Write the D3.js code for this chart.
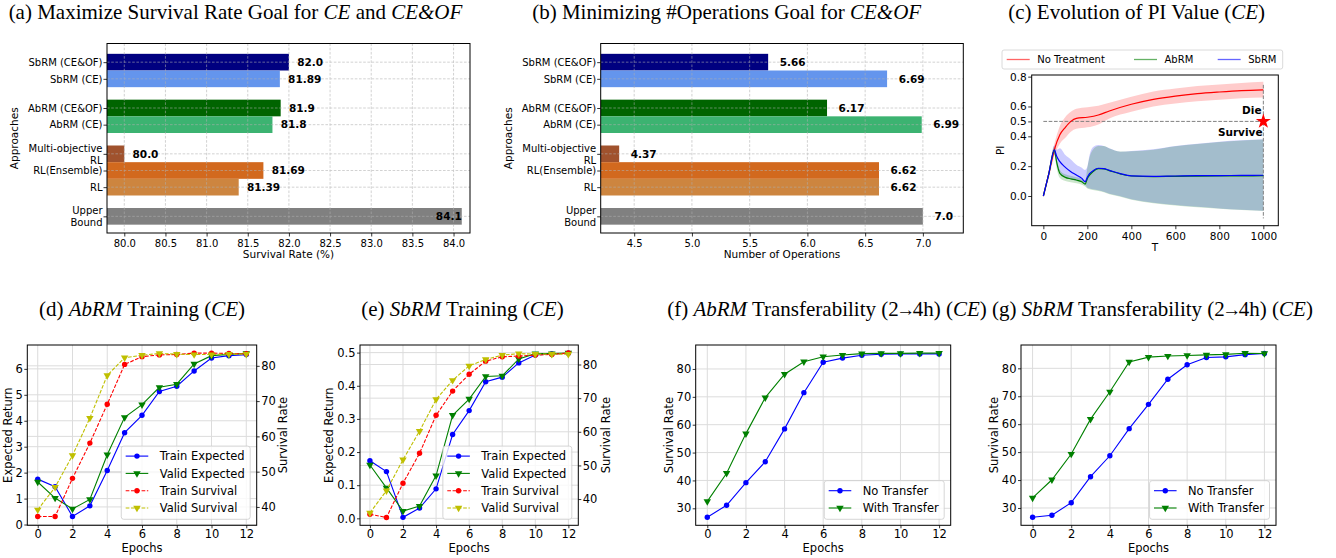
<!DOCTYPE html>
<html>
<head>
<meta charset="utf-8">
<script src="https://cdn.jsdelivr.net/npm/d3@7"></script>
<style>
  body { margin: 0; background: #fff; }
  svg { display: block; }
  text { white-space: pre; }
</style>
</head>
<body>
<svg id="fig" width="1336" height="558"></svg>
<script>
    // ---- data ----
    var approachGroups = [
        ["SbRM (CE&OF)", "SbRM (CE)"],
        ["AbRM (CE&OF)", "AbRM (CE)"],
        ["Multi-objective\nRL", "RL(Ensemble)", "RL"],
        ["Upper\nBound"]
    ];
    var survivalRate = [82.0, 81.89, 81.9, 81.8, 80.0, 81.69, 81.39, 84.1];
    var numOperations = [5.66, 6.69, 6.17, 6.99, 4.37, 6.62, 6.62, 7.0];
    var survivalTicks = [80.0, 80.5, 81.0, 81.5, 82.0, 82.5, 83.0, 83.5, 84.0];
    var operationTicks = [4.5, 5.0, 5.5, 6.0, 6.5, 7.0];

    var piTime = [0, 25, 50, 75, 100, 125, 150, 200, 250, 300, 400, 500, 600, 700, 800, 900, 1000];
    var noTreatMean = [0, 0.15, 0.31, 0.41, 0.46, 0.50, 0.52, 0.528, 0.543, 0.57, 0.615, 0.648, 0.67, 0.686, 0.697, 0.706, 0.711];
    var noTreatLow  = [0, 0.12, 0.27, 0.35, 0.39, 0.43, 0.45, 0.46, 0.48, 0.52, 0.565, 0.60, 0.62, 0.635, 0.645, 0.655, 0.66];
    var noTreatHigh = [0, 0.18, 0.35, 0.47, 0.53, 0.565, 0.585, 0.595, 0.605, 0.625, 0.665, 0.70, 0.72, 0.737, 0.748, 0.757, 0.765];

    var piTimeRM = [0, 25, 50, 60, 75, 100, 125, 150, 175, 190, 200, 210, 225, 250, 275, 300, 350, 400, 500, 600, 700, 800, 900, 1000];
    var abrmMean = [0, 0.15, 0.31, 0.23, 0.152, 0.125, 0.115, 0.107, 0.095, 0.08, 0.118, 0.14, 0.163, 0.183, 0.181, 0.17, 0.148, 0.134, 0.13, 0.132, 0.133, 0.134, 0.135, 0.136];
    var abrmLow  = [0, 0.13, 0.28, 0.19, 0.12, 0.10, 0.092, 0.085, 0.075, 0.063, 0.05, 0.045, 0.04, 0.034, 0.025, 0.012, -0.005, -0.025, -0.048, -0.063, -0.075, -0.086, -0.094, -0.10];
    var abrmHigh = [0, 0.17, 0.33, 0.25, 0.175, 0.145, 0.135, 0.125, 0.115, 0.10, 0.19, 0.26, 0.31, 0.335, 0.335, 0.318, 0.298, 0.30, 0.31, 0.333, 0.348, 0.362, 0.372, 0.378];
    var sbrmMean = [0, 0.15, 0.31, 0.268, 0.23, 0.192, 0.163, 0.141, 0.118, 0.096, 0.125, 0.15, 0.168, 0.186, 0.183, 0.172, 0.15, 0.135, 0.132, 0.134, 0.136, 0.137, 0.138, 0.139];
    var sbrmLow  = [0, 0.13, 0.28, 0.22, 0.16, 0.13, 0.115, 0.10, 0.09, 0.075, 0.055, 0.05, 0.045, 0.038, 0.028, 0.015, -0.002, -0.022, -0.045, -0.06, -0.072, -0.083, -0.092, -0.098];
    var sbrmHigh = [0, 0.17, 0.34, 0.31, 0.32, 0.275, 0.245, 0.21, 0.19, 0.175, 0.197, 0.275, 0.326, 0.342, 0.335, 0.32, 0.297, 0.302, 0.313, 0.335, 0.35, 0.364, 0.373, 0.38];
    var piTicks = [0.0, 0.2, 0.4, 0.5, 0.6, 0.8];
    var timeTicks = [0, 200, 400, 600, 800, 1000];

    var epochs = [0, 1, 2, 3, 4, 5, 6, 7, 8, 9, 10, 11, 12];
    var epochTicks = [0, 2, 4, 6, 8, 10, 12];
    var abrmTrainExpected = [1.75, 1.46, 0.31, 0.72, 2.08, 3.54, 4.21, 5.13, 5.33, 5.92, 6.42, 6.51, 6.55];
    var abrmValidExpected = [1.64, 1.02, 0.60, 0.97, 2.69, 4.13, 4.62, 5.29, 5.41, 6.19, 6.51, 6.56, 6.60];
    var abrmTrainSurvival = [37.3, 37.3, 48.1, 58.1, 69.1, 80.4, 82.6, 83.1, 83.2, 83.6, 83.6, 83.5, 83.4];
    var abrmValidSurvival = [39.2, 45.6, 54.6, 65.2, 77.3, 82.3, 83.0, 83.5, 83.3, 83.2, 83.2, 83.3, 83.3];
    var sbrmTrainExpected = [0.174, 0.141, 0.003, 0.031, 0.089, 0.253, 0.325, 0.412, 0.426, 0.469, 0.493, 0.496, 0.498];
    var sbrmValidExpected = [0.161, 0.092, 0.022, 0.037, 0.129, 0.311, 0.360, 0.428, 0.430, 0.481, 0.497, 0.497, 0.499];
    var sbrmTrainSurvival = [35.5, 34.5, 44.7, 53.6, 64.9, 72.1, 77.1, 81.0, 82.3, 82.5, 82.8, 83.0, 83.4];
    var sbrmValidSurvival = [35.9, 42.5, 51.7, 60.2, 69.6, 75.3, 79.6, 81.5, 82.8, 83.2, 83.1, 83.1, 83.1];
    var abrmNoTransfer   = [26.8, 31.1, 39.2, 46.7, 58.5, 71.5, 82.4, 83.9, 84.9, 85.3, 85.4, 85.4, 85.4];
    var abrmWithTransfer = [32.5, 42.6, 56.8, 69.7, 78.1, 82.6, 84.4, 85.0, 85.5, 85.6, 85.6, 85.7, 85.7];
    var sbrmNoTransfer   = [26.7, 27.4, 31.9, 41.2, 48.7, 58.4, 67.1, 76.1, 81.3, 83.9, 84.1, 84.9, 85.3];
    var sbrmWithTransfer = [33.6, 40.1, 49.3, 61.8, 71.6, 82.3, 84.0, 84.4, 84.6, 84.8, 85.0, 85.4, 85.3];

    // styles
    var barColors = ["#000080", "#6495ed", "#006400", "#3cb371", "#a0522d", "#d2691e", "#cd853f", "#808080"];
    var SANS = "'DejaVu Sans', sans-serif";
    var SERIF = "'Liberation Serif', 'Times New Roman', serif";

    var svg = d3.select("#fig");
    svg.append("rect").attr("width", 1336).attr("height", 558).attr("fill", "#fff");

    // ---- helpers ----
    // parts: [text, italic?, arrow?]
    function title(cx, y, parts) {
        var t = svg.append("text").attr("x", cx).attr("y", y).attr("text-anchor", "middle")
            .attr("font-family", SERIF).attr("font-size", 21).attr("fill", "#000");
        parts.forEach(function(p, k) {
            var ts = t.append("tspan").attr("font-style", p[1] ? "italic" : "normal").text(p[0]);
            if (p[2]) ts.attr("font-size", 19).attr("dx", -2.5);
            if (k > 0 && parts[k - 1][2]) ts.attr("dx", -2.5);
        });
    }

    function drawAxis(g, axis, size) {
        g.call(axis);
        g.select(".domain").remove();
        g.selectAll(".tick line").attr("stroke", "#000").attr("stroke-width", 0.8);
        g.selectAll(".tick text").attr("font-family", SANS).attr("font-size", size).attr("fill", "#000");
    }

    function frame(g, box) {
        g.append("rect").attr("x", box.left).attr("y", box.top)
            .attr("width", box.right - box.left).attr("height", box.bottom - box.top)
            .attr("fill", "none").attr("stroke", "#000").attr("stroke-width", 1);
    }

    function label(g, x, y, s, size, rotate) {
        var t = g.append("text").attr("font-family", SANS).attr("font-size", size)
            .attr("text-anchor", "middle").attr("fill", "#000").text(s);
        if (rotate) t.attr("transform", "translate(" + x + "," + y + ") rotate(-90)").attr("dy", "0.35em");
        else t.attr("x", x).attr("y", y);
        return t;
    }

    function fmtVal(v) { return (v % 1 === 0) ? v.toFixed(1) : String(v); }

    // ---- (a) / (b) horizontal bars ----
    function barPanel(box, values, xDomain, xTicks, xLabel, yLabelX) {
        var names = [], slots = [], s = 0;
        approachGroups.forEach(function(grp, gi) {
            if (gi > 0) s += 0.75;
            grp.forEach(function(n) { names.push(n); slots.push(s); s += 1; });
        });
        var x = d3.scaleLinear().domain(xDomain).range([box.left, box.right]);
        var y = d3.scaleLinear().domain([-1.12, 10.25]).range([box.top, box.bottom]);
        var bh = y(1) - y(0);
        var g = svg.append("g");

        g.selectAll("rect.bar").data(values).join("rect").attr("class", "bar")
            .attr("x", x(xDomain[0]))
            .attr("y", function(d, i) { return y(slots[i]) - bh / 2; })
            .attr("width", function(d) { return x(d) - x(xDomain[0]); })
            .attr("height", bh)
            .attr("fill", function(d, i) { return barColors[i]; });

        var grid = g.append("g").attr("stroke", "#b0b0b0").attr("stroke-width", 0.8)
            .attr("stroke-dasharray", "2.6,1.6").attr("opacity", 0.7);
        xTicks.forEach(function(v) {
            grid.append("line").attr("x1", x(v)).attr("x2", x(v)).attr("y1", box.top).attr("y2", box.bottom);
        });
        slots.forEach(function(v) {
            grid.append("line").attr("x1", box.left).attr("x2", box.right).attr("y1", y(v)).attr("y2", y(v));
        });

        g.selectAll("text.val").data(values).join("text").attr("class", "val")
            .attr("x", function(d) { return x(d + 0.1); })
            .attr("y", function(d, i) { return y(slots[i]); })
            .attr("dy", "0.36em")
            .attr("font-family", SANS).attr("font-size", 10.5).attr("font-weight", "bold")
            .text(fmtVal)
            .each(function(d) {
                if (x(d + 0.1) + this.getComputedTextLength() > box.right) {
                    d3.select(this).attr("x", x(d)).attr("text-anchor", "end");
                }
            });

        var ax = g.append("g").attr("transform", "translate(0," + box.bottom + ")");
        drawAxis(ax, d3.axisBottom(x).tickValues(xTicks).tickFormat(d3.format(".1f")).tickSize(3.5).tickPadding(3), 10);
        var ay = g.append("g").attr("transform", "translate(" + box.left + ",0)");
        drawAxis(ay, d3.axisLeft(y).tickValues(slots)
            .tickFormat(function(d) { return names[slots.indexOf(d)]; })
            .tickSize(3.5).tickPadding(1), 10);
        ay.selectAll(".tick text").each(function(d) {
            var lines = names[slots.indexOf(d)].split("\n");
            if (lines.length < 2) return;
            var t = d3.select(this).text(null).attr("dy", null);
            lines.forEach(function(ln, k) {
                t.append("tspan").attr("x", -4.5).attr("dy", k === 0 ? "-0.28em" : "1.2em").text(ln);
            });
        });

        frame(g, box);
        label(g, (box.left + box.right) / 2, 258, xLabel, 10.5, false);
        label(g, yLabelX, (box.top + box.bottom) / 2, "Approaches", 10.5, true);
    }

    barPanel({ left: 107, top: 43.5, right: 470, bottom: 233 }, survivalRate,
        [79.79, 84.2], survivalTicks, "Survival Rate (%)", 14);
    barPanel({ left: 600.7, top: 43.5, right: 963.3, bottom: 233 }, numOperations,
        [4.21, 7.35], operationTicks, "Number of Operations", 508.5);

    // ---- (c) PI evolution ----
    (function() {
        var box = { left: 1031.7, top: 75, right: 1278.3, bottom: 225.7 };
        var x = d3.scaleLinear().domain([-53, 1068]).range([box.left, box.right]);
        var y = d3.scaleLinear().domain([-0.199, 0.811]).range([box.bottom, box.top]);
        var g = svg.append("g");

        function band(ts, lo, hi) {
            return d3.area().curve(d3.curveMonotoneX)
                .x(function(d, i) { return x(ts[i]); })
                .y0(function(d, i) { return y(lo[i]); })
                .y1(function(d, i) { return y(hi[i]); })(ts);
        }
        function line(ts, vals) {
            return d3.line().curve(d3.curveMonotoneX)
                .x(function(d, i) { return x(ts[i]); })
                .y(function(d, i) { return y(vals[i]); })(ts);
        }

        g.append("path").attr("d", band(piTime, noTreatLow, noTreatHigh)).attr("fill", "#ff0000").attr("opacity", 0.2);
        g.append("path").attr("d", band(piTimeRM, sbrmLow, sbrmHigh)).attr("fill", "#0000ff").attr("opacity", 0.2);
        g.append("path").attr("d", band(piTimeRM, abrmLow, abrmHigh)).attr("fill", "#008000").attr("opacity", 0.2);

        g.append("line").attr("x1", x(0)).attr("x2", x(1000)).attr("y1", y(0.5)).attr("y2", y(0.5))
            .attr("stroke", "#808080").attr("stroke-width", 1).attr("stroke-dasharray", "3.7,1.6");
        g.append("line").attr("x1", x(1000)).attr("x2", x(1000)).attr("y1", y(0.745)).attr("y2", y(-0.15))
            .attr("stroke", "#808080").attr("stroke-width", 1).attr("stroke-dasharray", "3.7,1.6");

        g.append("path").attr("d", line(piTime, noTreatMean)).attr("fill", "none").attr("stroke", "#ff0000").attr("stroke-width", 1.2);
        g.append("path").attr("d", line(piTimeRM, abrmMean)).attr("fill", "none").attr("stroke", "#008000").attr("stroke-width", 1.2);
        g.append("path").attr("d", line(piTimeRM, sbrmMean)).attr("fill", "none").attr("stroke", "#0000ff").attr("stroke-width", 1.2);

        g.append("path").attr("d", d3.symbol().type(d3.symbolStar).size(70)())
            .attr("transform", "translate(" + x(1000) + "," + y(0.5) + ")").attr("fill", "#ff0000");
        g.append("text").attr("x", 1261.5).attr("y", 113.5).attr("text-anchor", "end")
            .attr("font-family", SANS).attr("font-size", 10.5).attr("font-weight", "bold").text("Die");
        g.append("text").attr("x", 1262.5).attr("y", 135.5).attr("text-anchor", "end")
            .attr("font-family", SANS).attr("font-size", 10.5).attr("font-weight", "bold").text("Survive");

        var ax = g.append("g").attr("transform", "translate(0," + box.bottom + ")");
        drawAxis(ax, d3.axisBottom(x).tickValues(timeTicks).tickFormat(d3.format("d")).tickSize(3.5).tickPadding(3), 10.5);
        var ay = g.append("g").attr("transform", "translate(" + box.left + ",0)");
        drawAxis(ay, d3.axisLeft(y).tickValues(piTicks).tickFormat(d3.format(".1f")).tickSize(3.5).tickPadding(1.5), 10.5);
        frame(g, box);
        label(g, (box.left + box.right) / 2, 251, "T", 10.5, false);
        label(g, 1000, (box.top + box.bottom) / 2, "PI", 10.5, true);

        // legend above the axes
        var lg = g.append("g");
        lg.append("rect").attr("x", 1002).attr("y", 50).attr("width", 280.7).attr("height", 19)
            .attr("rx", 2).attr("fill", "#fff").attr("stroke", "#d0d0d0").attr("stroke-width", 0.8);
        [["No Treatment", "#ff0000", 1006.7], ["AbRM", "#008000", 1134], ["SbRM", "#0000ff", 1217.7]].forEach(function(e) {
            lg.append("line").attr("x1", e[2]).attr("x2", e[2] + 23).attr("y1", 59.5).attr("y2", 59.5)
                .attr("stroke", e[1]).attr("stroke-width", 1.3).attr("opacity", 0.6);
            lg.append("text").attr("x", e[2] + 30.5).attr("y", 59.5).attr("dy", "0.35em")
                .attr("font-family", SANS).attr("font-size", 10).text(e[0]);
        });
    })();

    // ---- (d)-(g) training curves ----
    var TICK = 11.5;
    function epochPanel(box, xEnds, left, right, series, legendRows) {
        var x = d3.scaleLinear().domain(xEnds).range([box.left, box.right]);
        var yL = d3.scaleLinear().domain(left.domain).range([box.bottom, box.top]);
        var yR = right ? d3.scaleLinear().domain(right.domain).range([box.bottom, box.top]) : null;
        var g = svg.append("g");

        var grid = g.append("g").attr("stroke", "#dcdcdc").attr("stroke-width", 1);
        epochTicks.forEach(function(v) {
            grid.append("line").attr("x1", x(v)).attr("x2", x(v)).attr("y1", box.top).attr("y2", box.bottom);
        });
        left.ticks.forEach(function(v) {
            grid.append("line").attr("x1", box.left).attr("x2", box.right).attr("y1", yL(v)).attr("y2", yL(v));
        });
        if (right) right.ticks.forEach(function(v) {
            grid.append("line").attr("x1", box.left).attr("x2", box.right).attr("y1", yR(v)).attr("y2", yR(v));
        });

        var tri = d3.symbol().type(d3.symbolTriangle).size(24)();
        function marker(sel, m, color) {
            if (m === "o") sel.append("circle").attr("r", 2.7).attr("fill", color);
            else sel.append("path").attr("d", tri).attr("transform", "rotate(180)").attr("fill", color);
        }

        series.forEach(function(s) {
            var ys = s.axis === "R" ? yR : yL;
            g.append("path")
                .attr("d", d3.line().x(function(d, i) { return x(epochs[i]); }).y(function(d) { return ys(d); })(s.values))
                .attr("fill", "none").attr("stroke", s.color).attr("stroke-width", 1.1)
                .attr("stroke-dasharray", s.dash ? "3.7,1.6" : null);
            s.values.forEach(function(v, i) {
                var mg = g.append("g").attr("transform", "translate(" + x(epochs[i]) + "," + ys(v) + ")");
                marker(mg, s.marker, s.color);
            });
        });

        var ax = g.append("g").attr("transform", "translate(0," + box.bottom + ")");
        drawAxis(ax, d3.axisBottom(x).tickValues(epochTicks).tickSize(3).tickPadding(1.5), TICK);
        var ay = g.append("g").attr("transform", "translate(" + box.left + ",0)");
        drawAxis(ay, d3.axisLeft(yL).tickValues(left.ticks).tickFormat(left.fmt).tickSize(3).tickPadding(1.5), TICK);
        if (right) {
            var ar = g.append("g").attr("transform", "translate(" + box.right + ",0)");
            drawAxis(ar, d3.axisRight(yR).tickValues(right.ticks).tickFormat(right.fmt).tickSize(3).tickPadding(1.5), TICK);
            label(g, right.labelX, (box.top + box.bottom) / 2, right.label, 11.5, true);
        }
        frame(g, box);
        label(g, (box.left + box.right) / 2, 552, "Epochs", 11.5, false);
        label(g, left.labelX, (box.top + box.bottom) / 2, left.label, 11.5, true);

        // legend, lower right
        var lg = g.append("g");
        var rowH = 17.3, n = legendRows.length;
        var texts = legendRows.map(function(r) {
            return lg.append("text").attr("font-family", SANS).attr("font-size", 11.5).text(r.name);
        });
        var tw = d3.max(texts, function(t) { return t.node().getComputedTextLength(); });
        var bw = 38.4 + tw + 5.5, bh = 10 + (n - 1) * rowH + 11.3;
        var bx = box.right - 6.5 - bw, by = box.bottom - 6 - bh;
        lg.insert("rect", "text").attr("x", bx).attr("y", by).attr("width", bw).attr("height", bh)
            .attr("rx", 2.5).attr("fill", "#fff").attr("fill-opacity", 0.8)
            .attr("stroke", "#cccccc").attr("stroke-width", 0.8);
        legendRows.forEach(function(r, k) {
            var cy = by + 10 + k * rowH;
            lg.append("line").attr("x1", bx + 4.4).attr("x2", bx + 27).attr("y1", cy).attr("y2", cy)
                .attr("stroke", r.color).attr("stroke-width", 1.1).attr("stroke-dasharray", r.dash ? "3.7,1.6" : null);
            marker(lg.append("g").attr("transform", "translate(" + (bx + 15.7) + "," + cy + ")"), r.marker, r.color);
            texts[k].attr("x", bx + 38.4).attr("y", cy).attr("dy", "0.36em");
        });
    }

    var fmtInt = d3.format("d"), fmt1 = d3.format(".1f");
    var trainRows = [
        { name: "Train Expected", color: "#0000ff", marker: "o" },
        { name: "Valid Expected", color: "#008000", marker: "v" },
        { name: "Train Survival", color: "#ff0000", marker: "o", dash: true },
        { name: "Valid Survival", color: "#bfbf00", marker: "v", dash: true }
    ];
    var transferRows = [
        { name: "No Transfer", color: "#0000ff", marker: "o" },
        { name: "With Transfer", color: "#008000", marker: "v" }
    ];

    epochPanel({ left: 27.3, top: 345, right: 256.7, bottom: 525.3 }, [-0.6, 12.6],
        { domain: [-0.03, 6.92], ticks: [0, 1, 2, 3, 4, 5, 6], fmt: fmtInt, label: "Expected Return", labelX: 8 },
        { domain: [34.8, 85.9], ticks: [40, 50, 60, 70, 80], fmt: fmtInt, label: "Survival Rate", labelX: 283 },
        [
            { values: abrmTrainExpected, axis: "L", color: "#0000ff", marker: "o" },
            { values: abrmValidExpected, axis: "L", color: "#008000", marker: "v" },
            { values: abrmTrainSurvival, axis: "R", color: "#ff0000", marker: "o", dash: true },
            { values: abrmValidSurvival, axis: "R", color: "#bfbf00", marker: "v", dash: true }
        ], trainRows);

    epochPanel({ left: 360, top: 345, right: 578.3, bottom: 525.3 }, [-0.6, 12.6],
        { domain: [-0.021, 0.523], ticks: [0, 0.1, 0.2, 0.3, 0.4, 0.5], fmt: fmt1, label: "Expected Return", labelX: 329 },
        { domain: [32.2, 85.8], ticks: [40, 50, 60, 70, 80], fmt: fmtInt, label: "Survival Rate", labelX: 605.5 },
        [
            { values: sbrmTrainExpected, axis: "L", color: "#0000ff", marker: "o" },
            { values: sbrmValidExpected, axis: "L", color: "#008000", marker: "v" },
            { values: sbrmTrainSurvival, axis: "R", color: "#ff0000", marker: "o", dash: true },
            { values: sbrmValidSurvival, axis: "R", color: "#bfbf00", marker: "v", dash: true }
        ], trainRows);

    epochPanel({ left: 695.7, top: 345, right: 950.7, bottom: 525.3 }, [-0.6, 12.6],
        { domain: [23.9, 88.6], ticks: [30, 40, 50, 60, 70, 80], fmt: fmtInt, label: "Survival Rate", labelX: 668.5 },
        null,
        [
            { values: abrmNoTransfer, axis: "L", color: "#0000ff", marker: "o" },
            { values: abrmWithTransfer, axis: "L", color: "#008000", marker: "v" }
        ], transferRows);

    epochPanel({ left: 1021, top: 345, right: 1276, bottom: 525.3 }, [-0.6, 12.6],
        { domain: [23.8, 88.35], ticks: [30, 40, 50, 60, 70, 80], fmt: fmtInt, label: "Survival Rate", labelX: 994 },
        null,
        [
            { values: sbrmNoTransfer, axis: "L", color: "#0000ff", marker: "o" },
            { values: sbrmWithTransfer, axis: "L", color: "#008000", marker: "v" }
        ], transferRows);

    // ---- titles ----
    title(235.5, 18.7, [["(a) Maximize Survival Rate Goal for "], ["CE", 1], [" and "], ["CE&OF", 1]]);
    title(726.7, 18.7, [["(b) Minimizing #Operations Goal for "], ["CE&OF", 1]]);
    title(1136.7, 18.7, [["(c) Evolution of PI Value ("], ["CE", 1], [")"]]);
    title(142, 316, [["(d) "], ["AbRM", 1], [" Training ("], ["CE", 1], [")"]]);
    title(462.5, 316, [["(e) "], ["SbRM", 1], [" Training ("], ["CE", 1], [")"]]);
    title(827, 316, [["(f) "], ["AbRM", 1], [" Transferability (2"], ["\u2192", 0, 1], ["4h) ("], ["CE", 1], [")"]]);
    title(1152.5, 316, [["(g) "], ["SbRM", 1], [" Transferability (2"], ["\u2192", 0, 1], ["4h) ("], ["CE", 1], [")"]]);
</script>
</body>
</html>
